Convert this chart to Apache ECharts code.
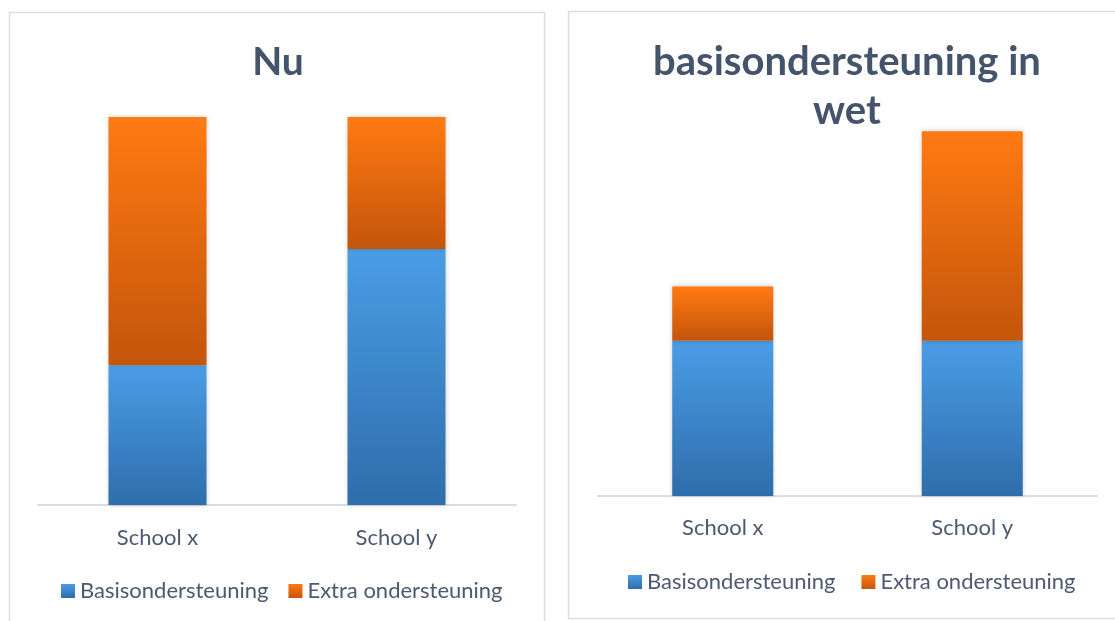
<!DOCTYPE html>
<html>
<head>
<meta charset="utf-8">
<script src="https://cdn.jsdelivr.net/npm/echarts@6/dist/echarts.min.js"></script>
<style>
html,body{margin:0;padding:0;background:#fff;}
#c{width:1115px;height:621px;}
</style>
</head>
<body>
<div id="c"></div>
<script>
const categories = ['School x', 'School y'];
const seriesNames = ['Basisondersteuning', 'Extra ondersteuning'];
const nuBasis = [36, 66];
const nuExtra = [64, 34];
const wetBasis = [40, 40];
const wetExtra = [14, 54];
const titleNu = 'Nu';
const titleWet = 'basisondersteuning in\nwet';

const FONT = 'Lato';
const TEXT = '#4B5A70';
const TITLE = '#44546A';

function blueGrad() {
  return new echarts.graphic.LinearGradient(0, 0, 0, 1, [
    {offset: 0, color: '#4A9DE6'}, {offset: 1, color: '#2F6DAB'}
  ]);
}
function orangeGrad() {
  return new echarts.graphic.LinearGradient(0, 0, 0, 1, [
    {offset: 0, color: '#FF7A12'}, {offset: 1, color: '#C4550B'}
  ]);
}
const shadow = {shadowBlur: 5, shadowColor: 'rgba(0,0,0,0.22)', shadowOffsetX: 0, shadowOffsetY: 0};

const chart = echarts.init(document.getElementById('c'), null, {renderer: 'canvas'});

function xAxis(gridIndex, margin) {
  return {
    type: 'category', gridIndex: gridIndex, data: categories,
    axisLine: {lineStyle: {color: '#D9DEE4', width: 2}},
    axisTick: {show: false},
    axisLabel: {color: TEXT, fontFamily: FONT, fontSize: 22, margin: margin}
  };
}
function yAxis(gridIndex) {
  return {type: 'value', gridIndex: gridIndex, min: 0, max: 100, show: false, splitLine: {show: false}};
}
function legend(left, top, gap) {
  return {
    data: seriesNames, left: left, top: top, icon: 'rect', itemWidth: 14, itemHeight: 14,
    itemGap: gap, textStyle: {color: TEXT, fontFamily: FONT, fontSize: 22}, selectedMode: false
  };
}

chart.setOption({
  animation: false,
  backgroundColor: '#fff',
  graphic: [
    {type: 'rect', shape: {x: 9.5, y: 12.5, width: 535, height: 640}, style: {fill: 'none', stroke: '#D9DEE4', lineWidth: 1.5}, silent: true},
    {type: 'rect', shape: {x: 568.5, y: 11.5, width: 600, height: 607}, style: {fill: 'none', stroke: '#D9DEE4', lineWidth: 1.5}, silent: true}
  ],
  title: [
    {text: titleNu, left: 273, top: 38, textAlign: 'center',
     textStyle: {color: TITLE, fontFamily: FONT, fontWeight: 'bold', fontSize: 39}},
    {text: titleWet, left: 842, top: 33, textAlign: 'center',
     textStyle: {color: TITLE, fontFamily: FONT, fontWeight: 'bold', fontSize: 40, lineHeight: 49}}
  ],
  legend: [legend(56, 575, 20), legend(623, 566, 26)],
  grid: [
    {left: 38, right: 599, top: 117, bottom: 116},
    {left: 598, right: 18, top: 108, bottom: 125}
  ],
  xAxis: [xAxis(0, 22), xAxis(1, 21)],
  yAxis: [yAxis(0), yAxis(1)],
  series: [
    {name: seriesNames[0], type: 'bar', stack: 'nu', xAxisIndex: 0, yAxisIndex: 0, barWidth: 98,
     data: nuBasis, itemStyle: Object.assign({color: blueGrad()}, shadow)},
    {name: seriesNames[1], type: 'bar', stack: 'nu', xAxisIndex: 0, yAxisIndex: 0, barWidth: 98,
     data: nuExtra, itemStyle: Object.assign({color: orangeGrad()}, shadow)},
    {name: seriesNames[0], type: 'bar', stack: 'wet', xAxisIndex: 1, yAxisIndex: 1, barWidth: 101,
     data: wetBasis, itemStyle: Object.assign({color: blueGrad()}, shadow)},
    {name: seriesNames[1], type: 'bar', stack: 'wet', xAxisIndex: 1, yAxisIndex: 1, barWidth: 101,
     data: wetExtra, itemStyle: Object.assign({color: orangeGrad()}, shadow)}
  ]
});
</script>
</body>
</html>
